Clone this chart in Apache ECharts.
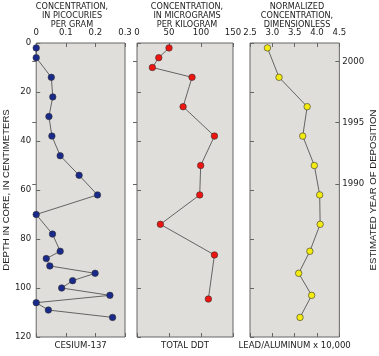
<!DOCTYPE html>
<html><head><meta charset="utf-8">
<script src="https://cdn.jsdelivr.net/npm/echarts@6/dist/echarts.min.js"></script>
<style>html,body{margin:0;padding:0;background:#fff}#c{width:379px;height:356px}</style>
</head><body><div id="c"></div>
<script>
// Data
const cesiumDepth = [2,6,14,22,30,38,46,54,62,70,78,85,88,91,94,97,100,103,106,109,112];
const cesiumValue = [0,0,0.051,0.056,0.043,0.053,0.081,0.145,0.207,0,0.055,0.081,0.034,0.046,0.199,0.123,0.086,0.249,0,0.041,0.258];
const ddtDepth = [2,6,10,14,26,38,50,62,74,86.5,104.5];
const ddtValue = [50,34,24,86,72,121,99.5,98,36.5,121,111.5];
const leadDepth = [2,14,26,38,50,62,74,85,94,103,112];
const leadValue = [2.89,3.15,3.78,3.68,3.94,4.06,4.07,3.84,3.59,3.88,3.62];
const yearTicks = [1990,1995,2000];
const panelTitles = [
  'CONCENTRATION,\nIN PICOCURIES\nPER GRAM',
  'CONCENTRATION,\nIN MICROGRAMS\nPER KILOGRAM',
  'NORMALIZED\nCONCENTRATION,\nDIMENSIONLESS'
];
const bottomNames = ['CESIUM-137','TOTAL DDT','LEAD/ALUMINUM x 10,000'];

const NARROW = '"Liberation Sans Narrow","Arial Narrow","DejaVu Sans Condensed",sans-serif';
const REG = '"Liberation Sans",Arial,sans-serif';
const TXT = '#222';
const BORDER = '#666';

const grids = [
  {left:29, top:43, width:96, height:299},
  {left:137, top:43, width:96, height:299},
  {left:250, top:43, width:95, height:299}
];
const xr = [
  {min:0, max:0.3, interval:0.1, fmt:v=>String(+v.toFixed(1))},
  {min:0, max:150, interval:50, fmt:v=>String(v)},
  {min:2.5, max:4.5, interval:0.5, fmt:v=>v.toFixed(1)}
];

const xAxis = [], yAxis = [], series = [];
grids.forEach((g,i)=>{
  xAxis.push({type:'value', gridIndex:i, position:'top', min:xr[i].min, max:xr[i].max, interval:xr[i].interval,
    axisLine:{show:false}, splitLine:{show:false},
    axisTick:{show:true, inside:true, length:4, lineStyle:{color:BORDER}},
    axisLabel:{show:true, margin:5, fontFamily:NARROW, fontSize:9.5, color:TXT, formatter:xr[i].fmt}
  });
  xAxis.push({type:'value', gridIndex:i, position:'bottom', min:xr[i].min, max:xr[i].max, interval:xr[i].interval,
    axisLine:{show:false}, splitLine:{show:false},
    axisTick:{show:true, inside:true, length:4, lineStyle:{color:BORDER}},
    axisLabel:{show:false},
    name:bottomNames[i], nameLocation:'middle', nameGap:4,
    nameTextStyle:{fontFamily:NARROW, fontSize:9.5, color:TXT, verticalAlign:'top'}
  });
  yAxis.push({type:'value', gridIndex:i, position:'left', inverse:true, min:0, max:120, interval:20,
    axisLine:{show:false}, splitLine:{show:false},
    axisTick:{show:true, inside:true, length:4, lineStyle:{color:BORDER}},
    axisLabel:{show:i===0, margin:5, fontFamily:NARROW, fontSize:9.5, color:TXT},
    name: i===0 ? 'DEPTH IN CORE, IN CENTIMETERS' : '', nameLocation:'middle', nameGap:20,
    nameTextStyle:{fontFamily:REG, fontSize:9.6, color:TXT}
  });
  yAxis.push({type:'value', gridIndex:i, position:'right', min:1977.5, max:2001.5,
    axisLine:{show:false}, splitLine:{show:false},
    axisTick:{show:true, inside:true, length:4, customValues:yearTicks, lineStyle:{color:BORDER}},
    axisLabel:{show:i===2, margin:3, customValues:yearTicks, fontFamily:NARROW, fontSize:9.5, color:TXT, formatter:v=>String(v)},
    name: i===2 ? 'ESTIMATED YEAR OF DEPOSITION' : '', nameLocation:'middle', nameGap:24,
    nameTextStyle:{fontFamily:REG, fontSize:9.6, color:TXT}
  });
});

function mk(vals, deps, i, color){
  return {type:'line', xAxisIndex:2*i, yAxisIndex:2*i, data: vals.map((v,k)=>[v,deps[k]]),
    symbol:'circle', symbolSize:6.5, showSymbol:true, animation:false, silent:true,
    lineStyle:{color:'#444', width:0.8},
    itemStyle:{color:color, borderColor:'#333', borderWidth:0.6}, z:3};
}
series.push(mk(cesiumValue, cesiumDepth, 0, '#1a2a8a'));
series.push(mk(ddtValue, ddtDepth, 1, '#ee1410'));
series.push(mk(leadValue, leadDepth, 2, '#f4ec10'));

const titleX = [72, 187, 297];
const graphic = panelTitles.map((t,i)=>({type:'text', x:titleX[i], y:1.5,
  style:{text:t, align:'center', verticalAlign:'top', font:'9px '+NARROW, fill:TXT, lineHeight:9.4}}));

const chart = echarts.init(document.getElementById('c'), null, {renderer:'canvas'});
chart.setOption({
  animation:false,
  grid: grids.map(g=>Object.assign({show:true, backgroundColor:'#e0dedb', borderColor:BORDER, borderWidth:1, containLabel:false}, g)),
  xAxis, yAxis, series, graphic
});
</script></body></html>
